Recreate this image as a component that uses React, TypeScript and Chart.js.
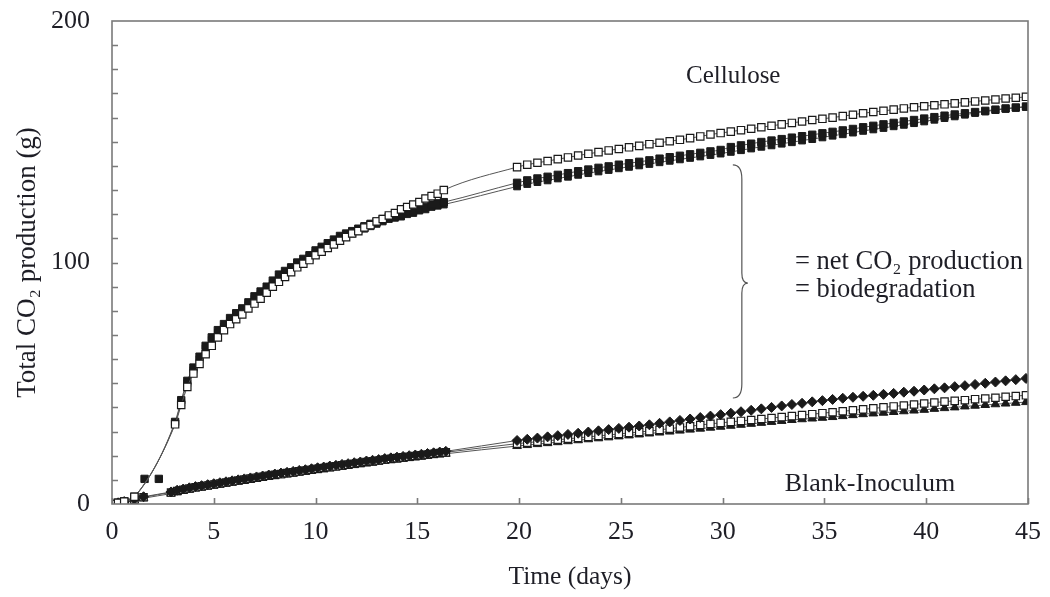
import { useEffect, useRef } from "react";
import { Chart, registerables } from "chart.js";

Chart.register(...registerables);

const FONT = "'Liberation Serif', 'DejaVu Serif', serif";
const TEXT = "#1e1e26";

// ---------- Cellulose ----------
const cellTimes = [
  0, 0.3, 0.6, 1.1,
  3.1, 3.4, 3.7, 4.0, 4.3, 4.6, 4.9, 5.2, 5.5, 5.8, 6.1, 6.4, 6.7, 7.0, 7.3, 7.6, 7.9,
  8.2, 8.5, 8.8, 9.1, 9.4, 9.7, 10.0, 10.3, 10.6, 10.9, 11.2, 11.5, 11.8, 12.1, 12.4,
  12.7, 13.0, 13.3, 13.6, 13.9, 14.2, 14.5, 14.8, 15.1, 15.4, 15.7, 16.0, 16.3,
  19.9, 20.4, 20.9, 21.4, 21.9, 22.4, 22.9, 23.4, 23.9, 24.4, 24.9, 25.4, 25.9, 26.4,
  26.9, 27.4, 27.9, 28.4, 28.9, 29.4, 29.9, 30.4, 30.9, 31.4, 31.9, 32.4, 32.9, 33.4,
  33.9, 34.4, 34.9, 35.4, 35.9, 36.4, 36.9, 37.4, 37.9, 38.4, 38.9, 39.4, 39.9, 40.4,
  40.9, 41.4, 41.9, 42.4, 42.9, 43.4, 43.9, 44.4, 44.9,
];

const celluloseOpen = [
  0, 0.5, 1, 3,
  33, 41, 48.5, 54, 58, 62, 65.5, 69, 72, 74.5, 76.5, 78.5, 81, 83, 85, 87.5, 90,
  92, 94, 96, 98, 99.5, 101, 103, 104.5, 106, 107.5, 109, 110.5, 112, 113, 114.5,
  115.5, 117, 118, 119.5, 120.5, 122, 123, 124, 125, 126.5, 127.5, 128.5, 130,
  139.5, 140.5, 141.3, 142, 142.8, 143.5, 144.3, 145, 145.7, 146.4, 147, 147.7, 148.3, 149,
  149.6, 150.2, 150.8, 151.5, 152.2, 153, 153.6, 154.2, 154.8, 155.4, 156, 156.6, 157.2, 157.8,
  158.4, 159, 159.5, 160, 160.6, 161.2, 161.8, 162.3, 162.8, 163.3, 163.8, 164.3, 164.7, 165.1,
  165.5, 165.9, 166.3, 166.7, 167.1, 167.5, 167.9, 168.2, 168.6,
];

const celluloseFilledA = [
  0, 0.5, 1, 3,
  34, 43, 51, 56.5, 61, 65.5, 69, 72, 74.5, 77, 79, 81, 83.5, 86, 88, 90, 92.5,
  95, 96.5, 98, 100, 101.5, 103, 105, 106.5, 108, 109.5, 111, 112, 113, 114, 115,
  116, 117, 118, 119, 119.5, 120, 121, 121.5, 122.5, 123, 124, 124.5, 125,
  133, 134, 134.8, 135.5, 136.3, 137, 137.8, 138.5, 139.2, 139.8, 140.5, 141.1, 141.7, 142.3,
  143, 143.6, 144.2, 144.8, 145.4, 146, 146.6, 147.8, 148.5, 149.2, 149.9, 150.5, 151.1, 151.7,
  152.3, 152.9, 153.5, 154.1, 154.7, 155.3, 156, 156.6, 157.2, 157.8, 158.4, 159, 159.6, 160.2,
  160.8, 161.3, 161.8, 162.3, 162.8, 163.3, 163.8, 164.2, 164.6,
];

const celluloseFilledB = [
  0, 0.4, 0.9, 2.8,
  33.5, 42, 50, 55.5, 60, 64.5, 68, 71, 73.5, 76, 78, 80, 82.5, 85, 87, 89, 91.5,
  94, 95.5, 97, 99, 100.5, 102, 104, 105.5, 107, 108.5, 110, 111, 112, 113, 114,
  115, 116, 117, 118, 118.5, 119, 120, 120.5, 121.5, 122, 123, 123.5, 124,
  131.5, 132.5, 133.3, 134, 134.8, 135.5, 136.3, 137, 137.7, 138.3, 139, 139.6, 140.2, 140.8,
  141.5, 142.1, 142.7, 143.3, 143.9, 144.5, 145.1, 145.8, 146.5, 147.2, 147.9, 148.5, 149.2, 149.8,
  150.5, 151.1, 151.8, 152.5, 153.1, 153.8, 154.5, 155.1, 155.7, 156.4, 157, 157.7, 158.4, 159.1,
  159.8, 160.5, 161.2, 161.9, 162.5, 163.1, 163.6, 164, 164.4,
];

const outlierTimes = [1.6, 2.3];
const outlierValues = [10.4, 10.4];

// ---------- Blank-Inoculum ----------
const blankTimes = [
  0, 0.3, 0.6, 1.1, 1.55,
  2.9, 3.2, 3.5, 3.8, 4.1, 4.4, 4.7, 5.0, 5.3, 5.6, 5.9, 6.2, 6.5, 6.8, 7.1, 7.4, 7.7,
  8.0, 8.3, 8.6, 8.9, 9.2, 9.5, 9.8, 10.1, 10.4, 10.7, 11.0, 11.3, 11.6, 11.9, 12.2,
  12.5, 12.8, 13.1, 13.4, 13.7, 14.0, 14.3, 14.6, 14.9, 15.2, 15.5, 15.8, 16.1, 16.4,
  19.9, 20.4, 20.9, 21.4, 21.9, 22.4, 22.9, 23.4, 23.9, 24.4, 24.9, 25.4, 25.9, 26.4,
  26.9, 27.4, 27.9, 28.4, 28.9, 29.4, 29.9, 30.4, 30.9, 31.4, 31.9, 32.4, 32.9, 33.4,
  33.9, 34.4, 34.9, 35.4, 35.9, 36.4, 36.9, 37.4, 37.9, 38.4, 38.9, 39.4, 39.9, 40.4,
  40.9, 41.4, 41.9, 42.4, 42.9, 43.4, 43.9, 44.4, 44.9,
];

const blankDiamonds = [
  0, 0.5, 1, 2, 3,
  5, 5.7, 6.2, 6.7, 7.2, 7.6, 8, 8.4, 8.8, 9.2, 9.6, 10, 10.4, 10.8, 11.2, 11.6, 12,
  12.4, 12.8, 13.1, 13.5, 13.9, 14.2, 14.6, 15, 15.3, 15.7, 16, 16.4, 16.7, 17.1, 17.4,
  17.8, 18.1, 18.4, 18.8, 19.1, 19.4, 19.7, 20, 20.3, 20.6, 20.9, 21.2, 21.5, 21.8,
  26.3, 26.8, 27.3, 27.8, 28.3, 28.8, 29.3, 29.8, 30.3, 30.8, 31.3, 31.8, 32.3, 32.8,
  33.4, 34, 34.6, 35.2, 35.8, 36.4, 37, 37.6, 38.2, 38.8, 39.4, 40, 40.6, 41.2,
  41.7, 42.3, 42.8, 43.3, 43.8, 44.2, 44.6, 45, 45.4, 45.8, 46.3, 46.7, 47.2, 47.7,
  48.1, 48.6, 49, 49.5, 50, 50.5, 51, 51.5, 52,
];

const blankSquares = [
  0, 0.4, 0.9, 1.8, 2.8,
  4.8, 5.4, 5.9, 6.4, 6.9, 7.3, 7.7, 8.1, 8.5, 8.9, 9.3, 9.7, 10.1, 10.5, 10.9, 11.3, 11.7,
  12.1, 12.4, 12.8, 13.1, 13.5, 13.9, 14.2, 14.6, 14.9, 15.3, 15.6, 16, 16.3, 16.7, 17,
  17.4, 17.7, 18, 18.4, 18.7, 19, 19.3, 19.6, 19.9, 20.2, 20.5, 20.8, 21.1, 21.4,
  25, 25.4, 25.8, 26.2, 26.6, 27, 27.4, 27.8, 28.2, 28.6, 29, 29.4, 29.8, 30.2,
  30.7, 31.2, 31.7, 32.2, 32.7, 33.2, 33.6, 34, 34.4, 34.8, 35.2, 35.6, 36, 36.4,
  36.8, 37.2, 37.6, 38, 38.4, 38.8, 39.2, 39.6, 40, 40.4, 40.8, 41.2, 41.6, 42,
  42.4, 42.7, 43, 43.4, 43.7, 44, 44.4, 44.7, 45,
];

const blankTriangles = [
  0, 0.3, 0.7, 1.5, 2.4,
  4.3, 4.9, 5.4, 5.9, 6.4, 6.8, 7.2, 7.6, 8, 8.4, 8.8, 9.2, 9.6, 10, 10.4, 10.8, 11.2,
  11.5, 11.9, 12.2, 12.6, 13, 13.3, 13.7, 14, 14.4, 14.7, 15.1, 15.4, 15.8, 16.1, 16.5,
  16.8, 17.1, 17.5, 17.8, 18.1, 18.4, 18.7, 19, 19.3, 19.6, 19.9, 20.2, 20.5, 20.8,
  24, 24.4, 24.8, 25.2, 25.6, 26, 26.4, 26.8, 27.2, 27.6, 28, 28.4, 28.8, 29.2,
  29.6, 30, 30.4, 30.8, 31.2, 31.6, 32, 32.4, 32.8, 33.2, 33.6, 34, 34.4, 34.8,
  35.1, 35.4, 35.7, 36, 36.4, 36.8, 37.2, 37.5, 37.8, 38.1, 38.4, 38.7, 39, 39.4,
  39.7, 40, 40.4, 40.7, 41, 41.3, 41.6, 41.9, 42.2,
];

// ---------- Axes ----------
const xTickValues = [0, 5, 10, 15, 20, 25, 30, 35, 40, 45];
const yMinorTicks = [10, 20, 30, 40, 50, 60, 70, 80, 90, 100, 110, 120, 130, 140, 150, 160, 170, 180, 190];
const yLabelValues = [0, 100, 200];

const toPoints = (xs: number[], ys: number[]) => xs.map((x, i) => ({ x, y: ys[i] }));

const overlayPlugin = {
  id: "overlay",
  afterDraw(chart: any) {
    const { ctx, chartArea, scales } = chart;
    const xs = scales.x;
    const ys = scales.y;
    const { left, right, top, bottom } = chartArea;
    ctx.save();
    // frame
    ctx.strokeStyle = "#7a7a7a";
    ctx.lineWidth = 1.6;
    ctx.strokeRect(left, top, right - left, bottom - top);
    // inward ticks
    ctx.beginPath();
    yMinorTicks.forEach((v) => {
      const py = Math.round(ys.getPixelForValue(v)) + 0.5;
      ctx.moveTo(left, py);
      ctx.lineTo(left + 6, py);
    });
    xTickValues.forEach((v) => {
      const px = Math.round(xs.getPixelForValue(v)) + 0.5;
      ctx.moveTo(px, bottom);
      ctx.lineTo(px, bottom - 6);
    });
    ctx.stroke();

    // brace
    const xb = xs.getPixelForValue(30.5);
    const yT = ys.getPixelForValue(140.4);
    const yB = ys.getPixelForValue(43.9);
    const yM = ys.getPixelForValue(91.5);
    ctx.strokeStyle = "#555";
    ctx.lineWidth = 1.2;
    ctx.beginPath();
    ctx.moveTo(xb, yT);
    ctx.quadraticCurveTo(xb + 9, yT, xb + 9, yT + 14);
    ctx.lineTo(xb + 9, yM - 10);
    ctx.quadraticCurveTo(xb + 9, yM, xb + 15, yM);
    ctx.quadraticCurveTo(xb + 9, yM, xb + 9, yM + 10);
    ctx.lineTo(xb + 9, yB - 14);
    ctx.quadraticCurveTo(xb + 9, yB, xb, yB);
    ctx.stroke();

    // annotation text
    ctx.fillStyle = TEXT;
    ctx.textBaseline = "middle";
    ctx.textAlign = "left";
    ctx.font = `25px ${FONT}`;
    ctx.fillText("Cellulose", xs.getPixelForValue(28.2), ys.getPixelForValue(177.2));
    ctx.font = `26px ${FONT}`;
    ctx.fillText("Blank-Inoculum", xs.getPixelForValue(33.05), ys.getPixelForValue(8.3));
    ctx.font = `26.5px ${FONT}`;
    ctx.fillText("= net CO\u2082 production", xs.getPixelForValue(33.55), ys.getPixelForValue(100.2));
    ctx.fillText("= biodegradation", xs.getPixelForValue(33.55), ys.getPixelForValue(88.6));
    ctx.restore();
  },
};

export default function App() {
  const ref = useRef<HTMLCanvasElement | null>(null);

  useEffect(() => {
    if (!ref.current) return;
    const black = "#1a1a1a";
    const lineColor = "#555";
    const base = {
      showLine: true,
      borderColor: lineColor,
      borderWidth: 1,
      cubicInterpolationMode: "monotone" as const,
      pointBorderColor: black,
      pointBorderWidth: 1,
    };
    const chart = new Chart(ref.current, {
      type: "scatter",
      data: {
        datasets: [
          {
            ...base,
            label: "Cellulose (open squares)",
            data: toPoints(cellTimes, celluloseOpen),
            pointStyle: "rect",
            pointRadius: 5.2,
            pointBackgroundColor: "#ffffff",
            pointBorderWidth: 1.2,
          },
          {
            ...base,
            label: "Cellulose (filled squares A)",
            data: toPoints(cellTimes, celluloseFilledA),
            pointStyle: "rect",
            pointRadius: 5.2,
            pointBackgroundColor: black,
          },
          {
            ...base,
            label: "Cellulose (filled squares B)",
            data: toPoints(cellTimes, celluloseFilledB),
            pointStyle: "rect",
            pointRadius: 4.8,
            pointBackgroundColor: black,
          },
          {
            label: "Cellulose (outliers)",
            data: toPoints(outlierTimes, outlierValues),
            showLine: false,
            pointStyle: "rect",
            pointRadius: 5.2,
            pointBackgroundColor: black,
            pointBorderColor: black,
          },
          {
            ...base,
            label: "Blank (diamonds)",
            data: toPoints(blankTimes, blankDiamonds),
            pointStyle: "rectRot",
            pointRadius: 5,
            pointBackgroundColor: black,
          },
          {
            ...base,
            label: "Blank (open squares)",
            data: toPoints(blankTimes, blankSquares),
            pointStyle: "rect",
            pointRadius: 5.2,
            pointBackgroundColor: "#ffffff",
            pointBorderWidth: 1.2,
          },
          {
            ...base,
            label: "Blank (triangles)",
            data: toPoints(blankTimes, blankTriangles),
            pointStyle: "triangle",
            pointRadius: 5,
            pointBackgroundColor: black,
          },
        ],
      },
      options: {
        animation: false,
        responsive: false,
        maintainAspectRatio: false,
        layout: { padding: { top: 21, right: 22, left: 0, bottom: 0 } },
        plugins: { legend: { display: false }, tooltip: { enabled: false } },
        scales: {
          x: {
            type: "linear",
            min: 0,
            max: 45,
            afterBuildTicks: (scale: any) => {
              scale.ticks = xTickValues.map((v) => ({ value: v }));
            },
            afterFit: (scale: any) => {
              scale.height = 93;
              scale.paddingLeft = 0;
              scale.paddingRight = 0;
            },
            grid: { display: false, drawTicks: false },
            border: { display: false },
            ticks: {
              padding: 13,
              color: TEXT,
              font: { family: FONT, size: 26 },
              maxRotation: 0,
            },
            title: {
              display: true,
              text: "Time (days)",
              color: TEXT,
              font: { family: FONT, size: 25.5 },
              padding: { top: 0, bottom: 4 },
            },
          },
          y: {
            type: "linear",
            min: 0,
            max: 200,
            afterBuildTicks: (scale: any) => {
              scale.ticks = yLabelValues.map((v) => ({ value: v }));
            },
            afterFit: (scale: any) => {
              scale.width = 112;
              scale.paddingTop = 0;
              scale.paddingBottom = 0;
            },
            grid: { display: false, drawTicks: false },
            border: { display: false },
            ticks: {
              padding: 22,
              color: TEXT,
              font: { family: FONT, size: 26 },
            },
            title: {
              display: true,
              text: "Total CO\u2082 production (g)",
              color: TEXT,
              font: { family: FONT, size: 27 },
              padding: { top: 12, bottom: 0 },
            },
          },
        },
      },
      plugins: [overlayPlugin],
    });
    return () => chart.destroy();
  }, []);

  return (
    <div style={{ position: "fixed", left: 0, top: 0, width: 1050, height: 597, background: "#fff" }}>
      <canvas ref={ref} width={1050} height={597} style={{ width: 1050, height: 597, display: "block" }} />
    </div>
  );
}
